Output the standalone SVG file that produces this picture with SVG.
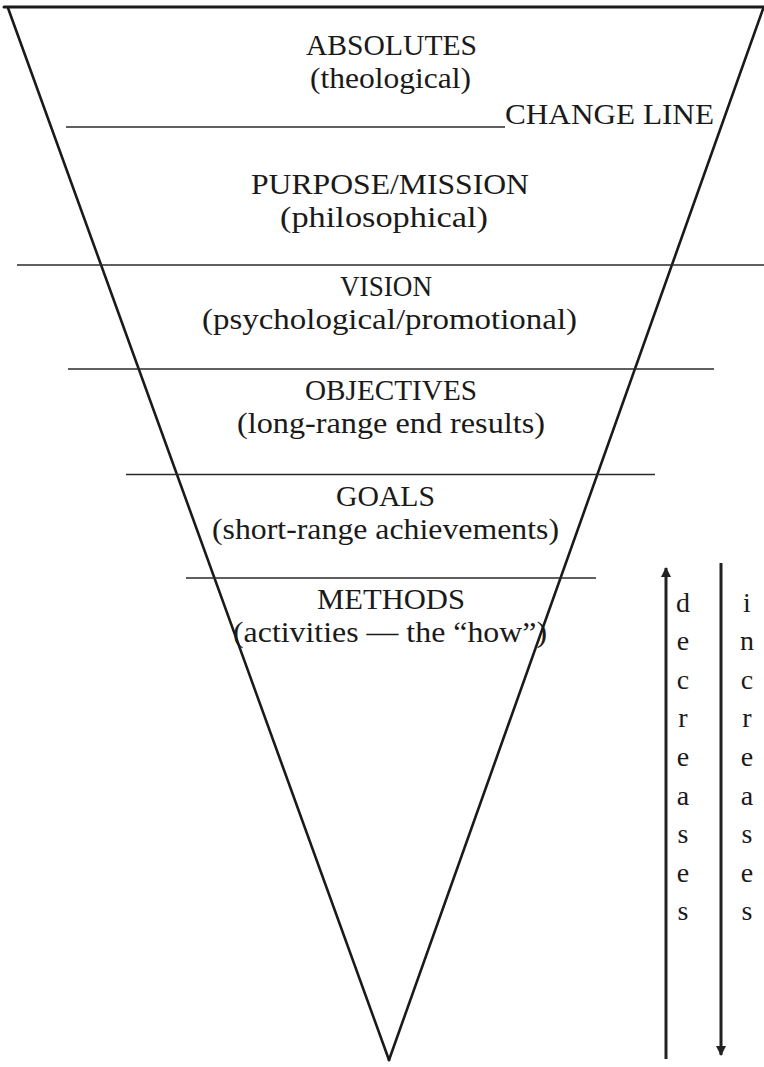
<svg xmlns="http://www.w3.org/2000/svg" width="764" height="1067" viewBox="0 0 764 1067">
<style>
  text { font-family: "Liberation Serif", "Times New Roman", serif; fill: #1a1a1a; }
  .t { font-size: 30px; }
  .v { font-size: 28px; text-anchor: middle; }
  .rule { stroke: #2a2a2a; stroke-width: 1.6; fill: none; }
  .edge { stroke: #1a1a1a; stroke-width: 2.6; fill: none; stroke-linecap: round; }
  .arrow { stroke: #222; stroke-width: 3; fill: none; }
</style>
<defs>
  <marker id="head" markerUnits="userSpaceOnUse" markerWidth="11" markerHeight="11" refX="9" refY="5.5" orient="auto">
    <path d="M0,0.5 L10,5.5 L0,10.5 z" fill="#222"/>
  </marker>
</defs>
<rect width="764" height="1067" fill="#ffffff"/>

<g id="funnel">
  <line class="edge" x1="4" y1="7" x2="764" y2="7" style="stroke-width:3"/>
  <line class="edge" x1="8" y1="8" x2="389" y2="1060"/>
  <line class="edge" x1="763" y1="9" x2="389" y2="1060"/>
</g>

<g id="rules">
  <line class="rule" x1="66" y1="127" x2="505" y2="127"/>
  <line class="rule" x1="17" y1="265" x2="764" y2="265"/>
  <line class="rule" x1="68" y1="369" x2="714" y2="369"/>
  <line class="rule" x1="126" y1="474.5" x2="655" y2="474.5"/>
  <line class="rule" x1="186" y1="578" x2="596" y2="578"/>
</g>

<g id="absolutes">
  <text class="t" x="306" y="55" textLength="171" lengthAdjust="spacingAndGlyphs">ABSOLUTES</text>
  <text class="t" x="310" y="88" textLength="161" lengthAdjust="spacingAndGlyphs">(theological)</text>
</g>
<g id="change-line">
  <text class="t" x="505" y="124" textLength="209" lengthAdjust="spacingAndGlyphs">CHANGE LINE</text>
</g>
<g id="purpose">
  <text class="t" x="251" y="194" textLength="278" lengthAdjust="spacingAndGlyphs">PURPOSE/MISSION</text>
  <text class="t" x="280" y="227" textLength="208" lengthAdjust="spacingAndGlyphs">(philosophical)</text>
</g>
<g id="vision">
  <text class="t" x="340" y="296" textLength="92" lengthAdjust="spacingAndGlyphs">VISION</text>
  <text class="t" x="202" y="329" textLength="375" lengthAdjust="spacingAndGlyphs">(psychological/promotional)</text>
</g>
<g id="objectives">
  <text class="t" x="305" y="400" textLength="172" lengthAdjust="spacingAndGlyphs">OBJECTIVES</text>
  <text class="t" x="237" y="433" textLength="308" lengthAdjust="spacingAndGlyphs">(long-range end results)</text>
</g>
<g id="goals">
  <text class="t" x="336" y="506" textLength="99" lengthAdjust="spacingAndGlyphs">GOALS</text>
  <text class="t" x="212" y="539" textLength="347" lengthAdjust="spacingAndGlyphs">(short-range achievements)</text>
</g>
<g id="methods">
  <text class="t" x="317" y="609" textLength="148" lengthAdjust="spacingAndGlyphs">METHODS</text>
  <text class="t" x="233" y="642" textLength="314" lengthAdjust="spacingAndGlyphs">(activities — the “how”)</text>
</g>

<g id="connectors">
  <line class="arrow" x1="666" y1="1059" x2="666" y2="568" marker-end="url(#head)"/>
  <line class="arrow" x1="721" y1="563" x2="721" y2="1055" marker-end="url(#head)"/>
</g>

<g id="decreases">
  <text class="v" x="683" y="612">d</text>
  <text class="v" x="683" y="650">e</text>
  <text class="v" x="683" y="689">c</text>
  <text class="v" x="683" y="727">r</text>
  <text class="v" x="683" y="766">e</text>
  <text class="v" x="683" y="805">a</text>
  <text class="v" x="683" y="843">s</text>
  <text class="v" x="683" y="882">e</text>
  <text class="v" x="683" y="920">s</text>
</g>
<g id="increases">
  <text class="v" x="747" y="612">i</text>
  <text class="v" x="747" y="650">n</text>
  <text class="v" x="747" y="689">c</text>
  <text class="v" x="747" y="727">r</text>
  <text class="v" x="747" y="766">e</text>
  <text class="v" x="747" y="805">a</text>
  <text class="v" x="747" y="843">s</text>
  <text class="v" x="747" y="882">e</text>
  <text class="v" x="747" y="920">s</text>
</g>
</svg>
